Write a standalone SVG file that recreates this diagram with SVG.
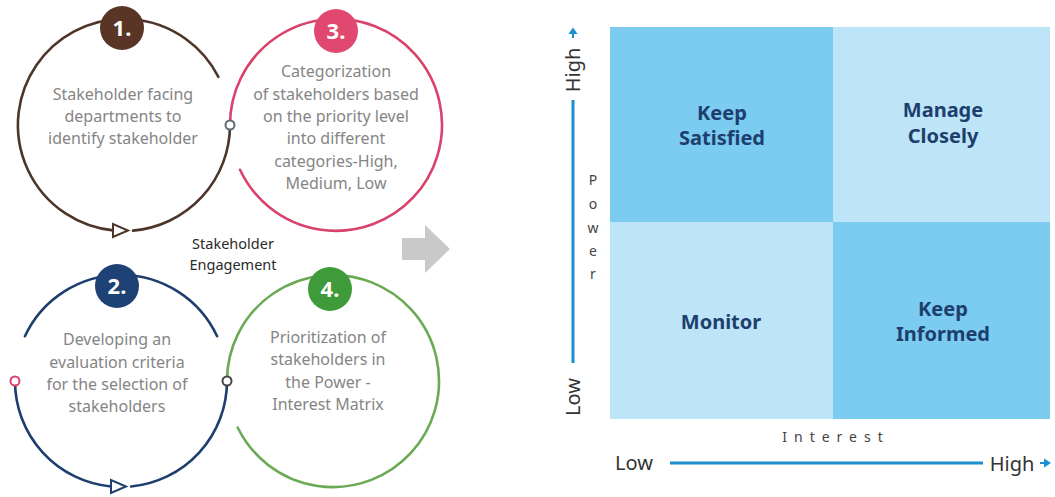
<svg xmlns="http://www.w3.org/2000/svg" width="1055" height="497" viewBox="0 0 1055 497">
<style>
.arc{fill:none;stroke-width:2.6;stroke-linecap:round}
.desc{font-family:"Noto Sans","DejaVu Sans",sans-serif;font-size:16px;fill:#858585;text-anchor:middle}
.num{font-family:"Noto Sans","DejaVu Sans",sans-serif;font-size:22px;font-weight:bold;fill:#fff;text-anchor:middle}
.node{fill:#fff;stroke-width:2}
.quad{font-family:"Noto Sans","DejaVu Sans",sans-serif;font-size:20px;font-weight:bold;fill:#1c3f6e;text-anchor:middle}
.ax{font-family:"Noto Sans","DejaVu Sans",sans-serif;font-size:20px;fill:#333;text-anchor:middle}
.small{font-family:"Noto Sans","DejaVu Sans",sans-serif;font-size:14px;fill:#444;text-anchor:middle}
.axis{stroke:#1b8fd2;stroke-width:3;fill:none}
.eng{font-family:"Noto Sans","DejaVu Sans",sans-serif;font-size:14.5px;fill:#2a2a2a;text-anchor:middle}
</style>
<rect width="1055" height="497" fill="#fff"/>

<g id="connectors">
  <!-- circle 1 (brown) -->
  <path class="arc" stroke="#4e3529" d="M218.4,76.9 A106,106 0 1 0 113,230.4"/>
  <path class="arc" stroke="#4e3529" d="M133,230.6 A106,106 0 0 0 230,125"/>
  <polygon points="113,224 113,237 128,230.5" fill="#fff" stroke="#4e3529" stroke-width="2"/>
  <!-- circle 3 (pink) -->
  <path class="arc" stroke="#d8426b" d="M230,125 A106,106 0 1 1 240,169.8"/>
  <!-- circle 2 (navy) -->
  <path class="arc" stroke="#1e3f6e" d="M24.9,336.2 A106,106 0 0 1 217.1,336.2"/>
  <path class="arc" stroke="#1e3f6e" d="M15,381 A106,106 0 0 0 111,486.5"/>
  <path class="arc" stroke="#1e3f6e" d="M131,486.5 A106,106 0 0 0 227,381"/>
  <polygon points="111,480 111,493 126,486.5" fill="#fff" stroke="#1e3f6e" stroke-width="2"/>
  <!-- circle 4 (green) -->
  <path class="arc" stroke="#6aaa55" d="M227,381 A106,106 0 1 1 237.7,427.5"/>
  <!-- junction nodes -->
  <circle class="node" cx="230" cy="125" r="4.5" stroke="#5d6b70"/>
  <circle class="node" cx="15" cy="381" r="4.5" stroke="#d8426b"/>
  <circle class="node" cx="227" cy="381" r="4.5" stroke="#454545"/>
</g>

<g id="step1">
  <circle cx="122" cy="28" r="22" fill="#5a3526"/>
  <text class="num" x="122" y="36">1.</text>
  <text class="desc" x="123" y="100">Stakeholder facing</text>
  <text class="desc" x="123" y="122">departments to</text>
  <text class="desc" x="123" y="144">identify stakeholder</text>
</g>

<g id="step3">
  <circle cx="336" cy="31" r="22" fill="#e04870"/>
  <text class="num" x="336" y="39">3.</text>
  <text class="desc" x="336" y="77">Categorization</text>
  <text class="desc" x="336" y="100">of stakeholders based</text>
  <text class="desc" x="336" y="122">on the priority level</text>
  <text class="desc" x="336" y="144">into different</text>
  <text class="desc" x="336" y="167">categories-High,</text>
  <text class="desc" x="336" y="189">Medium, Low</text>
</g>

<g id="step2">
  <circle cx="117" cy="286" r="22" fill="#1e4275"/>
  <text class="num" x="117" y="294">2.</text>
  <text class="desc" x="117" y="345">Developing an</text>
  <text class="desc" x="117" y="368">evaluation criteria</text>
  <text class="desc" x="117" y="390">for the selection of</text>
  <text class="desc" x="117" y="412">stakeholders</text>
</g>

<g id="step4">
  <circle cx="330" cy="289" r="22" fill="#3f9a3a"/>
  <text class="num" x="330" y="297">4.</text>
  <text class="desc" x="328" y="343">Prioritization of</text>
  <text class="desc" x="328" y="365">stakeholders in</text>
  <text class="desc" x="328" y="388">the Power -</text>
  <text class="desc" x="328" y="410">Interest Matrix</text>
</g>

<g id="center-label">
  <text class="eng" x="233" y="249">Stakeholder</text>
  <text class="eng" x="233" y="270">Engagement</text>
</g>

<g id="big-arrow">
  <polygon points="402,238 425,238 425,225 450,249 425,273 425,260 402,260" fill="#c9c9c9"/>
</g>

<g id="matrix">
  <rect x="610" y="27" width="223" height="195" fill="#7ccbf1"/>
  <rect x="833" y="27" width="217" height="195" fill="#bee5f7"/>
  <rect x="610" y="222" width="223" height="197" fill="#bee5f7"/>
  <rect x="833" y="222" width="217" height="197" fill="#7ccbf1"/>
  <text class="quad" x="722" y="120">Keep</text>
  <text class="quad" x="722" y="145">Satisfied</text>
  <text class="quad" x="943" y="117">Manage</text>
  <text class="quad" x="943" y="143">Closely</text>
  <text class="quad" x="721" y="329">Monitor</text>
  <text class="quad" x="943" y="316">Keep</text>
  <text class="quad" x="943" y="341">Informed</text>
</g>

<g id="power-axis">
  <line class="axis" x1="573" y1="100" x2="573" y2="363"/>
  <line x1="573" y1="38" x2="573" y2="33" stroke="#1b8fd2" stroke-width="2"/>
  <polygon points="568.5,34 577.5,34 573,27.5" fill="#1b8fd2"/>
  <text class="ax" transform="translate(580,70) rotate(-90)">High</text>
  <text class="ax" transform="translate(580,397) rotate(-90)">Low</text>
  <text class="small" x="593" y="185">P</text>
  <text class="small" x="593" y="209">o</text>
  <text class="small" x="593" y="233">w</text>
  <text class="small" x="593" y="256">e</text>
  <text class="small" x="593" y="279">r</text>
</g>

<g id="interest-axis">
  <text class="small" x="836" y="442" style="letter-spacing:7px">Interest</text>
  <text class="ax" x="634" y="470">Low</text>
  <line class="axis" x1="670" y1="463" x2="983" y2="463"/>
  <text class="ax" x="1012" y="471">High</text>
  <line x1="1040" y1="463" x2="1045" y2="463" stroke="#1b8fd2" stroke-width="2"/>
  <polygon points="1044,458.5 1044,467.5 1051,463" fill="#1b8fd2"/>
</g>
</svg>
